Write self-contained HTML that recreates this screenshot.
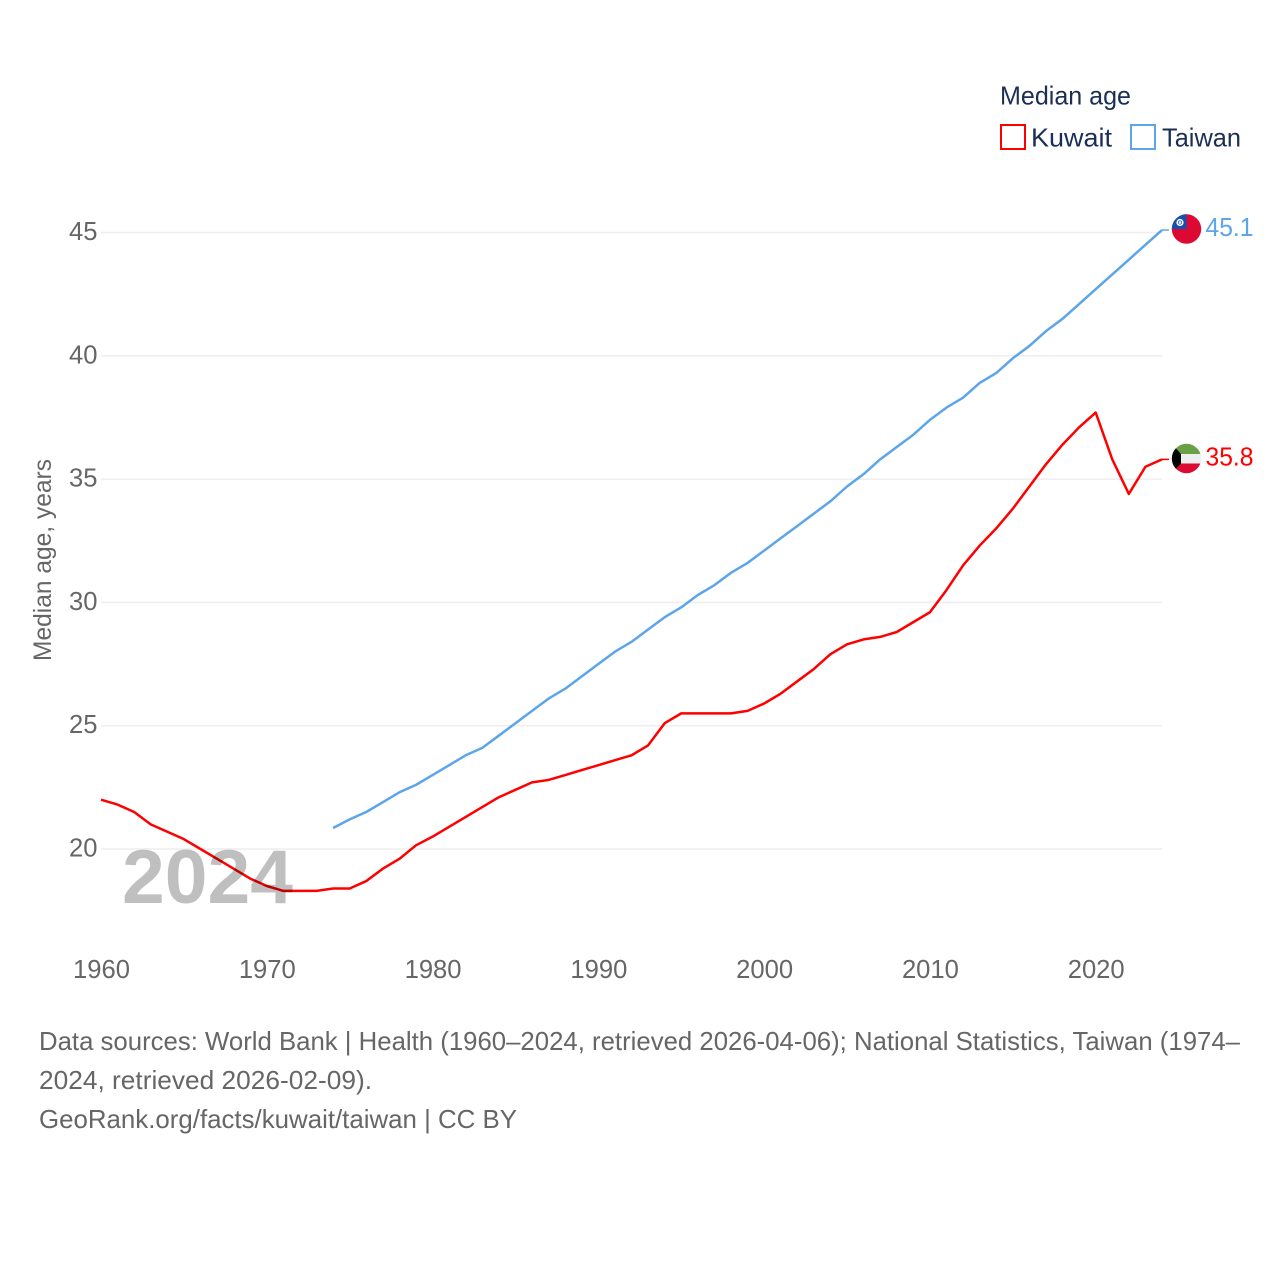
<!DOCTYPE html>
<html lang="en">
<head>
<meta charset="utf-8">
<title>Median age: Kuwait and Taiwan</title>
<style>
html,body{margin:0;padding:0;background:#fff;}
svg{display:block;font-family:"Liberation Sans",sans-serif;}
text{font-family:"Liberation Sans",sans-serif;}
</style>
</head>
<body>
<svg id="chart" width="1280" height="1280" viewBox="0 0 1280 1280" xmlns="http://www.w3.org/2000/svg">
  <defs>
    <clipPath id="flag-clip-tw"><circle cx="1186.5" cy="229" r="14.7"/></clipPath>
    <clipPath id="flag-clip-kw"><circle cx="1186.5" cy="458.5" r="14.7"/></clipPath>
  </defs>
  <g id="grid"></g>
  <g id="yticks" font-size="25.6" fill="#666666" text-anchor="end"></g>
  <g id="xticks" font-size="25.6" fill="#666666" text-anchor="middle"></g>
  <text transform="translate(51,560) rotate(-90)" font-size="25" fill="#666666" text-anchor="middle" textLength="202" lengthAdjust="spacingAndGlyphs">Median age, years</text>

  <g id="series"></g>

  <text x="122" y="903" font-size="76" font-weight="bold" fill="#000000" fill-opacity="0.25" textLength="171" lengthAdjust="spacingAndGlyphs">2024</text>

  <g>
    <text x="1000" y="104.5" font-size="26" fill="#1b2f55" textLength="131" lengthAdjust="spacingAndGlyphs">Median age</text>
    <rect x="1001" y="125" width="24" height="24" fill="none" stroke="#ff0000" stroke-width="2"/>
    <text x="1031" y="146.5" font-size="26" fill="#1b2f55" textLength="81" lengthAdjust="spacingAndGlyphs">Kuwait</text>
    <rect x="1131" y="125" width="24" height="24" fill="none" stroke="#5da5ea" stroke-width="2"/>
    <text x="1162" y="146.5" font-size="26" fill="#1b2f55" textLength="79" lengthAdjust="spacingAndGlyphs">Taiwan</text>
  </g>

  <g clip-path="url(#flag-clip-tw)">
    <rect x="1171" y="214" width="31" height="31" fill="#dc0a32"/>
    <rect x="1171" y="214" width="15.5" height="15" fill="#1450b4"/>
    <circle cx="1180" cy="222.5" r="3.6" fill="#ffffff"/>
    <circle cx="1180" cy="222.5" r="2" fill="#1450b4"/>
    <circle cx="1180" cy="222.5" r="1.3" fill="#ffffff"/>
  </g>
  <g clip-path="url(#flag-clip-kw)">
    <rect x="1171" y="443" width="31" height="11" fill="#6a9f45"/>
    <rect x="1171" y="454" width="31" height="9.5" fill="#eeeeee"/>
    <rect x="1171" y="463.5" width="31" height="11" fill="#dc0a32"/>
    <polygon points="1171,443 1181,454 1181,463.5 1171,474" fill="#000000"/>
  </g>
  <text x="1205.5" y="236" font-size="25.6" fill="#5da5ea" textLength="48" lengthAdjust="spacingAndGlyphs">45.1</text>
  <text x="1205.5" y="465.5" font-size="25.6" fill="#ff0000" textLength="48" lengthAdjust="spacingAndGlyphs">35.8</text>

  <g font-size="26" fill="#666666">
    <text x="39" y="1050" textLength="1201" lengthAdjust="spacingAndGlyphs">Data sources: World Bank | Health (1960–2024, retrieved 2026-04-06); National Statistics, Taiwan (1974–</text>
    <text x="39" y="1089" textLength="333" lengthAdjust="spacingAndGlyphs">2024, retrieved 2026-02-09).</text>
    <text x="39" y="1128" textLength="478" lengthAdjust="spacingAndGlyphs">GeoRank.org/facts/kuwait/taiwan | CC BY</text>
  </g>
</svg>
<script>
const yTickValues = [20, 25, 30, 35, 40, 45];
const xTickYears = [1960, 1970, 1980, 1990, 2000, 2010, 2020];
const kuwaitStartYear = 1960;
const kuwaitValues = [22.0,21.8,21.5,21.0,20.7,20.4,20.0,19.6,19.2,18.8,18.5,18.3,18.3,18.3,18.4,18.4,18.7,19.2,19.6,20.15,20.5,20.9,21.3,21.7,22.1,22.4,22.7,22.8,23.0,23.2,23.4,23.6,23.8,24.2,25.1,25.5,25.5,25.5,25.5,25.6,25.9,26.3,26.8,27.3,27.9,28.3,28.5,28.6,28.8,29.2,29.6,30.5,31.5,32.3,33.0,33.8,34.7,35.6,36.4,37.1,37.7,35.8,34.4,35.5,35.8];
const taiwanStartYear = 1974;
const taiwanValues = [20.85,21.2,21.5,21.9,22.3,22.6,23.0,23.4,23.8,24.1,24.6,25.1,25.6,26.1,26.5,27.0,27.5,28.0,28.4,28.9,29.4,29.8,30.3,30.7,31.2,31.6,32.1,32.6,33.1,33.6,34.1,34.7,35.2,35.8,36.3,36.8,37.4,37.9,38.3,38.9,39.3,39.9,40.4,41.0,41.5,42.1,42.7,43.3,43.9,44.5,45.1];

const NS = 'http://www.w3.org/2000/svg';
function xScale(year) { return 101 + (year - 1960) * (1162 - 101) / (2024 - 1960); }
function yScale(value) { return 849 - (value - 20) * (849 - 232.5) / (45 - 20); }

const gridGroup = document.getElementById('grid');
const yTickGroup = document.getElementById('yticks');
const xTickGroup = document.getElementById('xticks');
const seriesGroup = document.getElementById('series');

yTickValues.forEach(function (v) {
  const line = document.createElementNS(NS, 'line');
  
  
  line.setAttribute('x1', xScale(1960));
  line.setAttribute('x2', xScale(2024));
  line.setAttribute('y1', yScale(v));
  line.setAttribute('y2', yScale(v));
  line.setAttribute('stroke', '#eeeeee');
  line.setAttribute('stroke-width', '1.5');
  gridGroup.appendChild(line);

  const label = document.createElementNS(NS, 'text');
  
  
  label.setAttribute('x', 97.5);
  label.setAttribute('y', yScale(v) + 7.5);
  label.textContent = String(v);
  yTickGroup.appendChild(label);
});

xTickYears.forEach(function (year) {
  const label = document.createElementNS(NS, 'text');
  
  
  label.setAttribute('x', xScale(year) + 0.5);
  label.setAttribute('y', 978);
  label.textContent = String(year);
  xTickGroup.appendChild(label);
});

function drawSeries(name, color, startYear, values) {
  const pts = values.map(function (v, i) {
    return xScale(startYear + i).toFixed(2) + ',' + yScale(v).toFixed(2);
  });
  const path = document.createElementNS(NS, 'polyline');
  
  
  path.setAttribute('points', pts.join(' '));
  path.setAttribute('fill', 'none');
  path.setAttribute('stroke', color);
  path.setAttribute('stroke-width', '2.5');
  path.setAttribute('stroke-linejoin', 'round');
  seriesGroup.appendChild(path);

  const lastY = yScale(values[values.length - 1]);
  const connector = document.createElementNS(NS, 'line');
  
  
  connector.setAttribute('x1', xScale(2024));
  connector.setAttribute('x2', 1169);
  connector.setAttribute('y1', lastY);
  connector.setAttribute('y2', lastY);
  connector.setAttribute('stroke', color);
  connector.setAttribute('stroke-width', '1.5');
  seriesGroup.appendChild(connector);
}

drawSeries('kuwait', '#ff0000', kuwaitStartYear, kuwaitValues);
drawSeries('taiwan', '#5da5ea', taiwanStartYear, taiwanValues);
</script>
</body>
</html>
